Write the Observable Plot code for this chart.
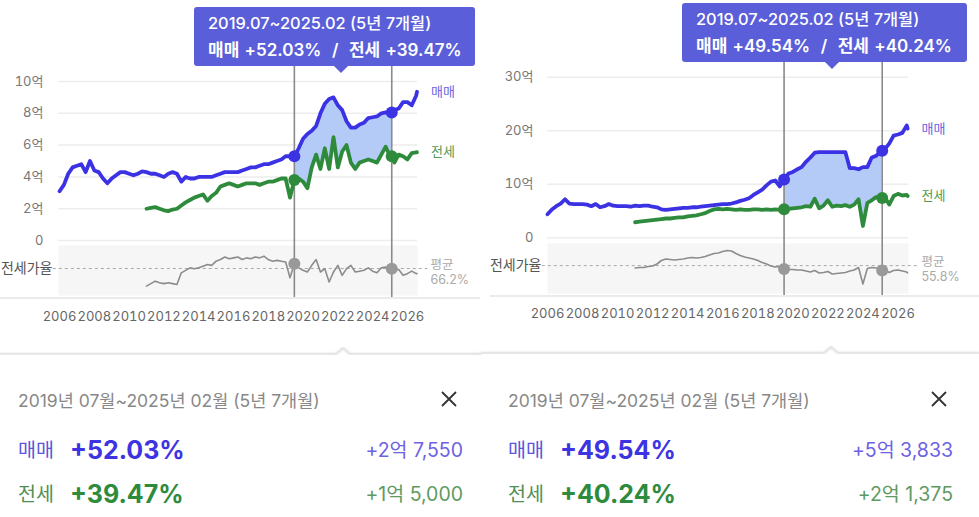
<!DOCTYPE html>
<html><head><meta charset="utf-8">
<script src="https://cdn.jsdelivr.net/npm/d3@7"></script>
<script src="https://cdn.jsdelivr.net/npm/@observablehq/plot@0.6"></script>
<style>
body{margin:0;background:#fff;font-family:Inter,"Noto Sans CJK KR",sans-serif;}
#root{position:relative;width:979px;height:517px;overflow:hidden;background:#fff;}
.abs{position:absolute;white-space:nowrap;}
.tip{position:absolute;background:#5a5ed8;border-radius:3px;}
.tipl{position:absolute;color:#fff;white-space:pre;}
.ptr{position:absolute;width:0;height:0;border-left:7px solid transparent;border-right:7px solid transparent;border-top:7px solid #5a5ed8;}
.sep{position:absolute;height:2px;background:#ebebeb;}
</style>
</head><body><div id="root"></div>
<script>
// ---------- data ----------
const t = [
2006,2006.25,2006.5,2006.75, 2007,2007.25,2007.5,2007.75, 2008,2008.25,2008.5,2008.75,
2009,2009.25,2009.5,2009.75, 2010,2010.25,2010.5,2010.75, 2011,2011.25,2011.5,2011.75,
2012,2012.25,2012.5,2012.75, 2013,2013.25,2013.5,2013.75, 2014,2014.25,2014.5,2014.75,
2015,2015.25,2015.5,2015.75, 2016,2016.25,2016.5,2016.75, 2017,2017.25,2017.5,2017.75,
2018,2018.25,2018.5,2018.75, 2019,2019.25,2019.5,2019.75, 2020,2020.25,2020.5,2020.75,
2021,2021.25,2021.5,2021.75, 2022,2022.25,2022.5,2022.75, 2023,2023.25,2023.5,2023.75,
2024,2024.25,2024.5,2024.75, 2025,2025.1,2025.25,2025.5,2025.75, 2026,2026.25,2026.5,2026.55];

const N20 = [null,null,null,null,null,null,null,null,null,null,null,null,null,null,null,null,null,null,null,null];

// left chart (억)
const saleL = [
3.1,3.5,4.2,4.6, 4.7,4.8,4.3,5.0, 4.4,4.3,3.9,3.6,
3.9,4.1,4.3,4.3, 4.2,4.1,4.2,4.35, 4.3,4.2,4.2,4.1,
4.0,4.2,4.3,4.2, 3.7,4.0,3.9,3.9, 4.0,4.0,4.0,4.0,
4.1,4.2,4.3,4.3, 4.3,4.3,4.4,4.5, 4.6,4.6,4.7,4.8,
4.8,4.9,5.0,5.1, 5.3,5.3,5.295,5.8, 6.4,6.7,6.9,7.2,
8.0,8.6,8.9,9.0, 8.5,8.2,7.5,7.1, 7.1,7.3,7.4,7.7,
7.75,7.8,8.0,8.05, 8.05,8.05,8.2,8.3,8.7, 8.7,8.5,9.1,9.35];
const jeonL = N20.concat([
2.0,2.05,2.1,2.0,
1.9,1.85,1.95,2.0, 2.2,2.4,2.55,2.7, 2.8,2.9,2.5,2.8,
3.0,3.4,3.5,3.6, 3.5,3.4,3.5,3.6, 3.6,3.6,3.5,3.6,
3.7,3.7,3.8,3.9, 3.9,2.7,3.80,3.9, 3.7,3.3,4.6,5.4,
4.5,5.8,4.5,6.5, 4.6,5.6,6.0,4.9, 4.5,4.9,5.0,5.1,
5.0,4.9,5.4,5.9, 5.3,5.30,4.9,5.4,5.3, 5.1,5.5,5.55,5.55]);
const ratioL = N20.concat([
45,48,51,49,
48,49,48,47, 61,64,67,66, 67,69,71,70,
75,77,80,78, 79,80,77,79, 78,80,79,81,
77,75,76,75, 74,55,71.8,67, 64,62,70,77,
62,66,50,62, 70,58,66,70, 62,63,64,67,
63,61,67,68, 65,65.8,64,65,58, 60,63,60,60]);

// right chart (억)
const saleR = [
4.4,5.3,5.9,6.4, 7.2,6.4,6.3,6.3, 6.3,6.2,5.9,6.3,
5.7,5.9,6.3,6.0, 5.9,5.9,5.9,5.8, 6.0,5.9,6.0,6.0,
5.8,5.7,5.3,5.2, 5.3,5.4,5.5,5.6, 5.6,5.7,5.7,5.8,
5.9,6.0,6.1,6.2, 6.3,6.3,6.4,6.6, 6.9,7.1,7.4,8.0,
8.5,9.0,9.8,10.5, 10.7,9.6,10.87,12.0, 12.3,12.8,13.2,14.2,
15.0,15.9,16.0,16.0, 16.0,16.0,16.0,16.0, 16.0,13.0,13.0,12.8,
13.2,13.2,15.0,15.3, 16.1,16.25,16.6,17.6,19.1, 19.3,19.6,21.0,20.4];
const jeonR = N20.concat([
2.9,3.0,3.1,3.2,
3.3,3.4,3.5,3.6, 3.6,3.7,3.8,3.8, 4.0,4.1,4.2,4.4,
4.6,5.0,5.3,5.4, 5.3,5.4,5.3,5.2, 5.3,5.2,5.2,5.3,
5.3,5.2,5.3,5.2, 5.3,5.2,5.31,5.4, 5.5,5.6,5.7,5.9,
5.8,7.3,5.5,6.0, 7.0,5.8,6.0,5.9, 6.1,5.8,6.2,7.2,
2.2,6.5,7.0,7.6, 7.5,7.45,7.6,6.2,7.8, 8.2,7.9,8.0,7.8]);
const ratioR = N20.concat([
51,52,52,54,
55,59,66,69, 68,67,68,69, 71,72,71,72,
74,77,80,81, 84,86,85,80, 76,73,71,69,
66,62,59,55, 53,54,48.9,48, 48,47,47,45,
43,46,41,42, 44,39,40,41, 42,45,47,52,
19,50,52,51, 49,45.8,47,42,46, 47,45,43,41]);

const xTicks = [2006,2008,2010,2012,2014,2016,2018,2020,2022,2024,2026];
const yTicksL = [0,2,4,6,8,10];
const yTicksR = [0,10,20,30];
const markT = [2019.5, 2025.1];
const avgL = 66.2, avgR = 55.8;

const period = "2019.07~2025.02 (5년 7개월)";
const periodKo = "2019년 07월~2025년 02월 (5년 7개월)";
const pctL = {sale:"+52.03%", jeon:"+39.47%"}, amtL = {sale:"+2억 7,550", jeon:"+1억 5,000"};
const pctR = {sale:"+49.54%", jeon:"+40.24%"}, amtR = {sale:"+5억 3,833", jeon:"+2억 1,375"};

// ---------- style ----------
const BLUE = "#3b32e4", GREEN = "#2e8b3c", GRAY = "#8a8a8a", BAND = "#b4cbf7";
const FONT = 'Inter, "Noto Sans CJK KR", sans-serif';
const root = document.getElementById("root");

function place(el, left, top){ el.style.position="absolute"; el.style.left=left+"px"; el.style.top=top+"px"; root.appendChild(el); }
function div(cls, css, html){ const d=document.createElement("div"); d.className=cls; d.style.cssText=css; if(html!=null) d.textContent=html; root.appendChild(d); return d; }

function panel(c){
  const data = t.map((x,i)=>({t:x, sale:c.sale[i], jeon:c.jeon[i], ratio:c.ratio[i]}));
  const band = data.filter(d=>d.t>=markT[0] && d.t<=markT[1]);
  const mk = data.filter(d=>markT.includes(d.t));
  const last = [data[data.length-1]];

  const top = Plot.plot({
    width:c.width, height:c.topH, marginLeft:c.mL, marginRight:c.mR, marginTop:c.mT, marginBottom:0,
    style:{background:"transparent", fontFamily:FONT, fontSize:"13px", color:"#777", overflow:"visible"},
    x:{domain:c.xDomain, axis:null},
    y:{domain:c.yDomain, axis:null},
    marks:[
      Plot.ruleY(c.yTicks, {stroke:"#ededed", strokeWidth:1.5}),
      Plot.axisY(c.yTicks, {tickSize:0, tickPadding:c.tickPad, tickFormat:d=>d===0?"0":d+"억", fontSize:13, label:null}),
      Plot.areaY(band, {x:"t", y1:"jeon", y2:"sale", fill:BAND}),
      Plot.ruleX(markT, {stroke:GRAY, strokeWidth:1.6}),
      Plot.lineY(data, {x:"t", y:"jeon", stroke:GREEN, strokeWidth:3.8}),
      Plot.lineY(data, {x:"t", y:"sale", stroke:BLUE, strokeWidth:3.8}),
      Plot.dot(mk, {x:"t", y:"jeon", r:6, fill:GREEN}),
      Plot.dot(mk, {x:"t", y:"sale", r:6, fill:BLUE}),
      Plot.text(last, {x:"t", y:"sale", text:()=>"매매", dx:14, textAnchor:"start", fill:"#6a66e2", fontSize:13}),
      Plot.text(last, {x:"t", y:"jeon", text:()=>"전세", dx:14, textAnchor:"start", fill:"#4f9a58", fontSize:13})
    ]
  });
  place(top, c.ox, 0);

  const bot = Plot.plot({
    width:c.width, height:90, marginLeft:c.mL, marginRight:c.mR, marginTop:0, marginBottom:40,
    style:{background:"transparent", fontFamily:FONT, fontSize:"13px", color:"#666", overflow:"visible"},
    x:{domain:c.xDomain, axis:null},
    y:{domain:c.rDomain, axis:null},
    marks:[
      Plot.frame({fill:"#f6f6f6", stroke:"none"}),
      Plot.ruleY([c.avg], {x1:c.xDomain[0]-0.3, x2:c.xDomain[1]+0.6, stroke:"#aaa", strokeDasharray:"3,3"}),
      Plot.ruleX(markT, {y1:c.rDomain[0]-c.rExt, y2:c.rDomain[1], stroke:GRAY, strokeWidth:1.6}),
      Plot.lineY(data, {x:"t", y:"ratio", stroke:"#8c8c8c", strokeWidth:1.6}),
      Plot.dot(mk, {x:"t", y:"ratio", r:6, fill:"#999"}),
      Plot.text(["전세가율"], {y:()=>c.avg, frameAnchor:"left", dx:-6, textAnchor:"end", fill:"#555", fontSize:14}),
      Plot.text(["평균\n"+c.avg+"%"], {y:()=>c.avg, frameAnchor:"right", dx:13, dy:3, textAnchor:"start", lineHeight:1.2, fill:"#aaa", fontSize:12.5}),
      Plot.axisX(xTicks, {tickSize:0, tickPadding:c.xPad, tickFormat:d=>String(d), fontSize:13, label:null})
    ]
  });
  place(bot, c.ox, c.topH);

  // separator under the chart
  div("sep", `left:${c.ox}px;top:${c.sepY}px;width:${c.sepW}px;`);

  // tooltip
  const tp = c.tip;
  div("tip", `left:${tp.x}px;top:${tp.y}px;width:${tp.w}px;height:${tp.h}px;`);
  div("ptr", `left:${tp.px-7}px;top:${tp.y+tp.h}px;`);
  div("tipl", `left:${tp.x+14}px;top:${tp.y+4}px;font-size:16.4px;font-weight:500;line-height:24px;`, period);
  div("tipl", `left:${tp.x+14}px;top:${tp.y+31}px;font-size:17px;font-weight:600;line-height:24px;word-spacing:1px;`,
      `매매 ${c.pct.sale}  /  전세 ${c.pct.jeon}`);

  // card
  const L = c.ox + 18;
  div("abs", `left:${L}px;top:389px;font-size:17.5px;color:#888;line-height:24px;`, periodKo);
  div("abs", `left:${L}px;top:437px;font-size:19.5px;color:#5b55e0;line-height:26px;`, "매매");
  div("abs", `left:${L+52}px;top:434px;font-size:25px;font-weight:700;color:#3d33e2;line-height:32px;`, c.pct.sale);
  div("abs", `right:${979-c.valR}px;top:437px;font-size:19.5px;color:#6d62e4;line-height:26px;`, c.amt.sale);
  div("abs", `left:${L}px;top:481px;font-size:19.5px;color:#4f8f55;line-height:26px;`, "전세");
  div("abs", `left:${L+52}px;top:478px;font-size:25px;font-weight:700;color:#2f8b3c;line-height:32px;`, c.pct.jeon);
  div("abs", `right:${979-c.valR}px;top:481px;font-size:19.5px;color:#5f9a62;line-height:26px;`, c.amt.jeon);
  const x = document.createElementNS("http://www.w3.org/2000/svg","svg");
  x.setAttribute("width",20); x.setAttribute("height",20);
  x.innerHTML = '<path d="M3,3 L17,17 M17,3 L3,17" stroke="#333" stroke-width="1.8" fill="none"/>';
  place(x, c.xIcon-10, 389);
}

// card top separators with notch
const s = document.createElementNS("http://www.w3.org/2000/svg","svg");
s.setAttribute("width",979); s.setAttribute("height",20);
s.innerHTML = '<defs><filter id="b"><feGaussianBlur stdDeviation="1.2"/></filter></defs>'+
 '<path d="M0,12 H336 L343,6 L350,12 H481" stroke="#ccc" stroke-width="2" fill="none" filter="url(#b)" opacity="0.6"/>'+
 '<path d="M0,12 H336 L343,6 L350,12 H481" stroke="#e4e4e4" stroke-width="1.5" fill="none"/>'+
 '<path d="M481,11 H824 L831,5 L838,11 H979" stroke="#ccc" stroke-width="2" fill="none" filter="url(#b)" opacity="0.6"/>'+
 '<path d="M481,11 H824 L831,5 L838,11 H979" stroke="#e4e4e4" stroke-width="1.5" fill="none"/>';
place(s, 0, 342);

panel({ox:0, width:490, sale:saleL, jeon:jeonL, ratio:ratioL,
  xDomain:[2005.94, 2026.58], mL:58, mR:73, topH:245, mT:66, yDomain:[-0.31,10.94], yTicks:yTicksL, tickPad:15,
  rDomain:[33.7,93.9], rExt:3.6, avg:avgL, xPad:16, sepY:297, sepW:480,
  tip:{x:194, y:7, w:281, h:59, px:341}, pct:pctL, amt:amtL, valR:463, xIcon:449});
panel({ox:490, width:489, sale:saleR, jeon:jeonR, ratio:ratioR,
  xDomain:[2006.0, 2026.6], mL:57, mR:71, topH:243, mT:62, yDomain:[-1.07,32.75], yTicks:yTicksR, tickPad:14,
  rDomain:[0,100], rExt:6, avg:avgR, xPad:15, sepY:295, sepW:489,
  tip:{x:682, y:3, w:285, h:59, px:832}, pct:pctR, amt:amtR, valR:953, xIcon:939});
</script></body></html>
